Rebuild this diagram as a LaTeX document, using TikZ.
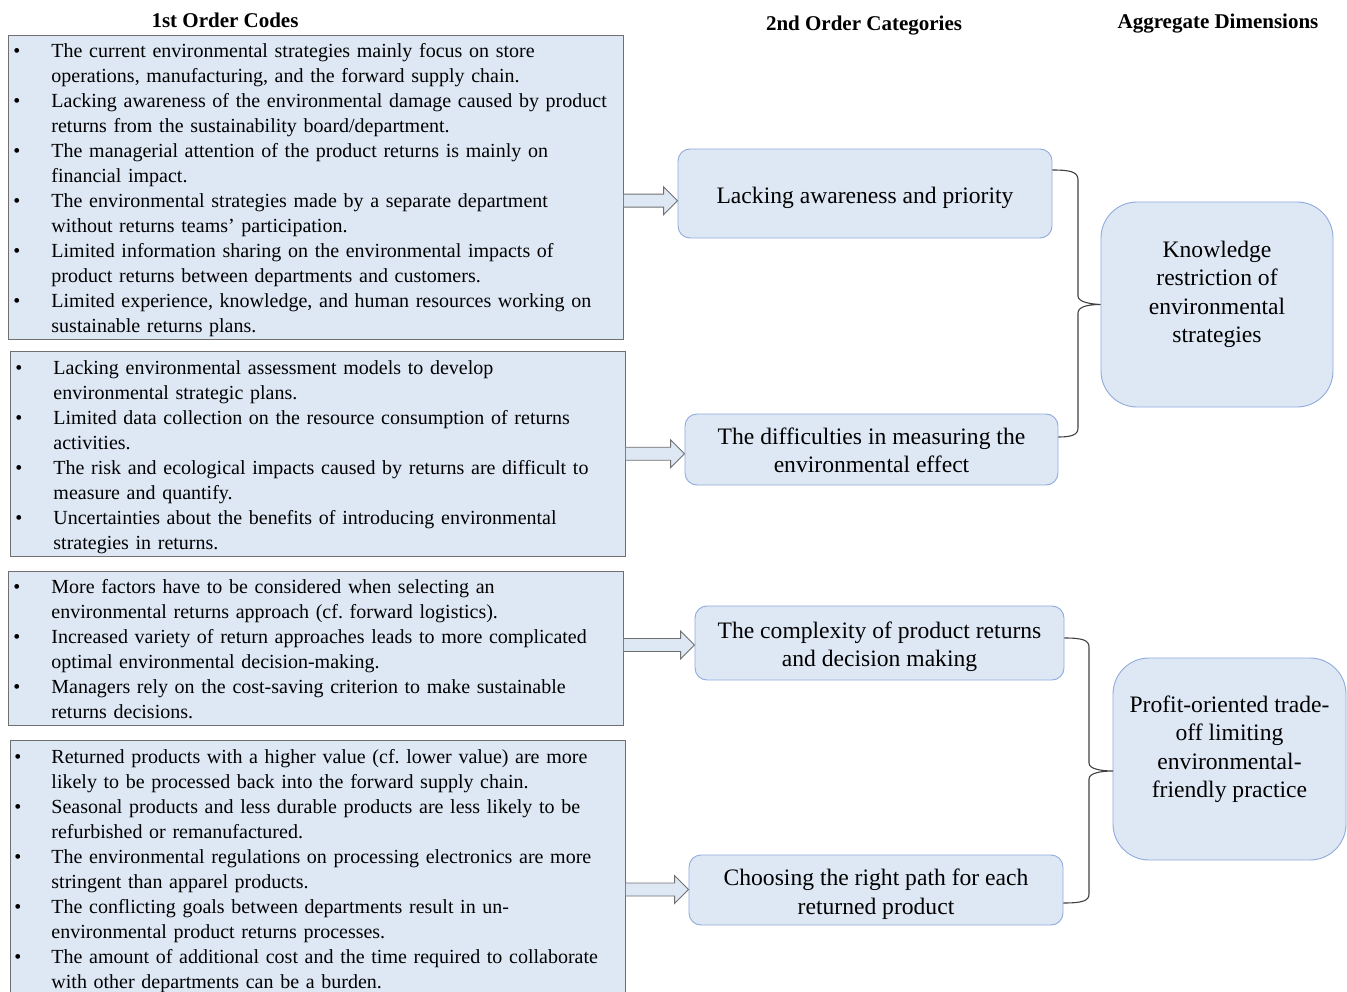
\documentclass[tikz,border=0pt]{standalone}
\usepackage{fontspec}
\setmainfont{Liberation Serif}
\usetikzlibrary{calc}
\definecolor{boxfill}{HTML}{DEE8F5}
\definecolor{boxline}{HTML}{8FAADC}
\definecolor{grayline}{HTML}{707070}
\definecolor{bracecol}{HTML}{404040}
\newcommand\bodyfnt{\fontsize{20}{25}\selectfont}
\newcommand\headfnt{\fontsize{21}{25}\selectfont}
\newcommand\bigfnt{\fontsize{23.6}{28.5}\selectfont}
\newcommand\blockarr[2]{%
  \draw[arrowbox] let \p1=(#1), \p2=(#2) in
    (\x1,\y1+6.5pt) -- (\x2-14pt,\y1+6.5pt) -- (\x2-14pt,\y1+14pt) -- (\x2,\y1)
    -- (\x2-14pt,\y1-14pt) -- (\x2-14pt,\y1-6.5pt) -- (\x1,\y1-6.5pt);}
\tikzset{
  leftbox/.style={draw=grayline, line width=0.9pt, fill=boxfill, rectangle, anchor=north west,
    inner ysep=0pt, align=left, font=\bodyfnt},
  midbox/.style={draw=boxline, line width=0.9pt, fill=boxfill, rectangle, rounded corners=12pt,
    inner sep=0pt},
  aggbox/.style={draw=boxline, line width=0.9pt, fill=boxfill, rectangle, rounded corners=36pt,
    inner sep=0pt},
  boxtext/.style={align=center, font=\bigfnt, inner sep=0pt},
  head/.style={font=\headfnt\bfseries, inner sep=0pt},
  arrowbox/.style={draw=grayline, line width=0.9pt, fill=boxfill},
  bracepath/.style={draw=bracecol, line width=1.1pt}
}
\begin{document}
\begin{tikzpicture}[x=1pt,y=-1pt]
\useasboundingbox (0,0) rectangle (1347,992);
\clip (0,0) rectangle (1347,992);

% headers
\node[head] (h1) at (225,20.5) {1st Order Codes};
\node[head] (h2) at (864,25.5) {2nd Order Categories};
\node[head] (h3) at (1218,23.5) {Aggregate Dimensions};

% left boxes
\node[leftbox, text width=605pt, inner xsep=5pt, minimum height=304pt] (l1) at (8,35) {%
\begin{tabular}{@{}p{38pt}@{}l@{}}
• & The current environmental strategies mainly focus on store\\
  & operations, manufacturing, and the forward supply chain.\\
• & Lacking awareness of the environmental damage caused by product\\
  & returns from the sustainability board/department.\\
• & The managerial attention of the product returns is mainly on\\
  & financial impact.\\
• & The environmental strategies made by a separate department\\
  & without returns teams’ participation.\\
• & Limited information sharing on the environmental impacts of\\
  & product returns between departments and customers.\\
• & Limited experience, knowledge, and human resources working on\\
  & sustainable returns plans.\\[-6pt]
\end{tabular}};

\node[leftbox, text width=605pt, inner xsep=5pt, minimum height=205pt] (l2) at (10,351) {%
\begin{tabular}{@{}p{38pt}@{}l@{}}
• & Lacking environmental assessment models to develop\\
  & environmental strategic plans.\\
• & Limited data collection on the resource consumption of returns\\
  & activities.\\
• & The risk and ecological impacts caused by returns are difficult to\\
  & measure and quantify.\\
• & Uncertainties about the benefits of introducing environmental\\
  & strategies in returns.\\[-6pt]
\end{tabular}};

\node[leftbox, text width=605pt, inner xsep=5pt, minimum height=154pt] (l3) at (8,571) {%
\begin{tabular}{@{}p{38pt}@{}l@{}}
• & More factors have to be considered when selecting an\\
  & environmental returns approach (cf.\ forward logistics).\\
• & Increased variety of return approaches leads to more complicated\\
  & optimal environmental decision-making.\\
• & Managers rely on the cost-saving criterion to make sustainable\\
  & returns decisions.\\[-6pt]
\end{tabular}};

\node[leftbox, text width=607pt, inner xsep=4pt, minimum height=256pt] (l4) at (10,740) {%
\begin{tabular}{@{}p{37pt}@{}l@{}}
• & Returned products with a higher value (cf.\ lower value) are more\\
  & likely to be processed back into the forward supply chain.\\
• & Seasonal products and less durable products are less likely to be\\
  & refurbished or remanufactured.\\
• & The environmental regulations on processing electronics are more\\
  & stringent than apparel products.\\
• & The conflicting goals between departments result in un-\\
  & environmental product returns processes.\\
• & The amount of additional cost and the time required to collaborate\\
  & with other departments can be a burden.\\[-6pt]
\end{tabular}};

% middle boxes
\node[midbox, minimum width=374pt, minimum height=89pt,
  label={[boxtext, yshift=-4pt]center:Lacking awareness and priority}] (m1) at (865,193.5) {};
\node[midbox, minimum width=373pt, minimum height=71pt,
  label={[boxtext, yshift=-1pt]center:{The difficulties in measuring the\\environmental effect}}] (m2) at (871.5,449.5) {};
\node[midbox, minimum width=369pt, minimum height=74pt,
  label={[boxtext, yshift=-3.5pt]center:{The complexity of product returns\\and decision making}}] (m3) at (879.5,643) {};
\node[midbox, minimum width=374pt, minimum height=70pt,
  label={[boxtext, yshift=-4pt]center:{Choosing the right path for each\\returned product}}] (m4) at (876,890) {};

% aggregate boxes
\node[aggbox, minimum width=232pt, minimum height=205pt,
  label={[boxtext, yshift=10pt]center:{Knowledge\\restriction of\\environmental\\strategies}}] (r1) at (1217,304.5) {};
\node[aggbox, minimum width=233pt, minimum height=202pt,
  label={[boxtext, yshift=10pt]center:{Profit-oriented trade-\\off limiting\\environmental-\\friendly practice}}] (r2) at (1229.5,759) {};

% block arrows
\coordinate (a1s) at (l1.east |- 0,200.7);
\coordinate (a2s) at (l2.east |- 0,453.7);
\coordinate (a3s) at (l3.east |- 0,645);
\coordinate (a4s) at (l4.east |- 0,889.5);
\blockarr{a1s}{m1.west}
\blockarr{a2s}{m2.west}
\blockarr{a3s}{m3.west}
\blockarr{a4s}{m4.west}

% braces
\coordinate (b1s) at (m1.east |- 0,170);
\coordinate (b1e) at (m2.east |- 0,437);
\coordinate (b2s) at (m3.east |- 0,638);
\coordinate (b2e) at (m4.east |- 0,903);
\path[bracepath] (b1s) .. controls (1071,170) and (1078,172) .. (1078,180) -- (1078,296)
  .. controls (1078,302) and (1090,304) .. (r1.west)
  .. controls (1090,304.5) and (1078,306) .. (1078,313) -- (1078,428)
  .. controls (1078,435) and (1071,437) .. (b1e);
\path[bracepath] (b2s) .. controls (1082,638) and (1089,640) .. (1089,647) -- (1089,763)
  .. controls (1089,769) and (1101,771) .. (1113,771)
  .. controls (1101,771) and (1089,773) .. (1089,779) -- (1089,894)
  .. controls (1089,901) and (1082,903) .. (b2e);
\end{tikzpicture}
\end{document}
